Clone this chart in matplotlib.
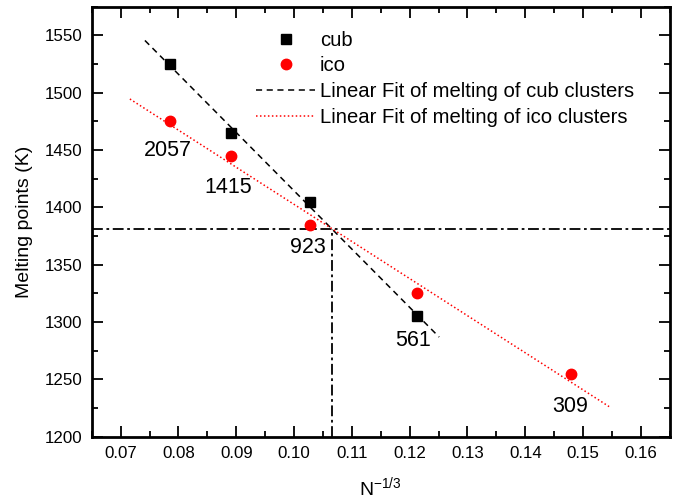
import numpy as np
import matplotlib
matplotlib.use("Agg")
import matplotlib.pyplot as plt
from matplotlib.ticker import MultipleLocator

plt.rcParams['font.family'] = ['Liberation Sans', 'DejaVu Sans']

# Data
cub_N = [2057, 1415, 923, 561]
cub_x = [0.0786, 0.0891, 0.1027, 0.1213]
cub_y = [1525, 1465, 1405, 1305]
ico_N = [2057, 1415, 923, 561, 309]
ico_x = [0.0786, 0.0891, 0.1027, 0.1213, 0.1479]
ico_y = [1475, 1445, 1385, 1325, 1255]
cub_fit_range = [0.0742, 0.1251]
ico_fit_range = [0.0716, 0.1545]
cross_x = 0.1065
cross_y = 1381
labels = ["2057", "1415", "923", "561", "309"]
label_x = [0.0782, 0.0886, 0.1024, 0.1206, 0.1478]
label_y = [1450, 1417, 1365, 1284, 1226]

fig = plt.figure(figsize=(6.8, 5.01), dpi=100)
ax = fig.add_axes([0.1349, 0.1283, 0.8501, 0.8583])

cf = np.polyfit(cub_x, cub_y, 1)
icf = np.polyfit(ico_x, ico_y, 1)
xc = np.array(cub_fit_range)
xi = np.array(ico_fit_range)

ax.plot([0.065, 0.165], [cross_y, cross_y], color='black', lw=1.3, ls=(0, (6, 2, 1.5, 2)), zorder=1)
ax.plot([cross_x, cross_x], [1200, cross_y], color='black', lw=1.3, ls=(0, (6, 2, 1.5, 2)), zorder=1)

ax.plot(cub_x, cub_y, ls='none', marker='s', ms=6.5, color='black', label='cub', zorder=3)
ax.plot(ico_x, ico_y, ls='none', marker='o', ms=7.5, color='red', label='ico', zorder=3)
ax.plot(xc, np.polyval(cf, xc), color='black', lw=1.1, ls=(0, (4, 3)),
        label='Linear Fit of melting of cub clusters', zorder=2)
ax.plot(xi, np.polyval(icf, xi), color='red', lw=1.1, ls=(0, (1, 1.6)),
        label='Linear Fit of melting of ico clusters', zorder=2)

for t, x, y in zip(labels, label_x, label_y):
    ax.text(x, y, t, fontsize=15.5, ha='center', va='center')

ax.set_xlim(0.065, 0.165)
ax.set_ylim(1200, 1575)
ax.xaxis.set_minor_locator(MultipleLocator(0.005))
ax.yaxis.set_major_locator(MultipleLocator(50))
ax.yaxis.set_minor_locator(MultipleLocator(25))
ax.set_xticks(np.arange(0.07, 0.1601, 0.01))
ax.set_xticklabels([f"{v:.2f}" for v in np.arange(0.07, 0.1601, 0.01)])
ax.tick_params(which='both', direction='in', top=True, right=True, width=1.3, labelsize=12.2, pad=7)
ax.tick_params(which='major', length=8)
ax.tick_params(which='minor', length=4.5)
for s in ax.spines.values():
    s.set_linewidth(2)

ax.set_xlabel(r"N$^{\mathregular{-1/3}}$", fontsize=14, labelpad=10)
ax.set_ylabel("Melting points (K)", fontsize=14, labelpad=8)

ax.legend(loc='upper left', bbox_to_anchor=(0.285, 0.944), frameon=False, fontsize=14.6,
          handlelength=2.9, handletextpad=0.22, labelspacing=0.33, borderpad=0, borderaxespad=0)

fig.savefig("out.png", dpi=100)
